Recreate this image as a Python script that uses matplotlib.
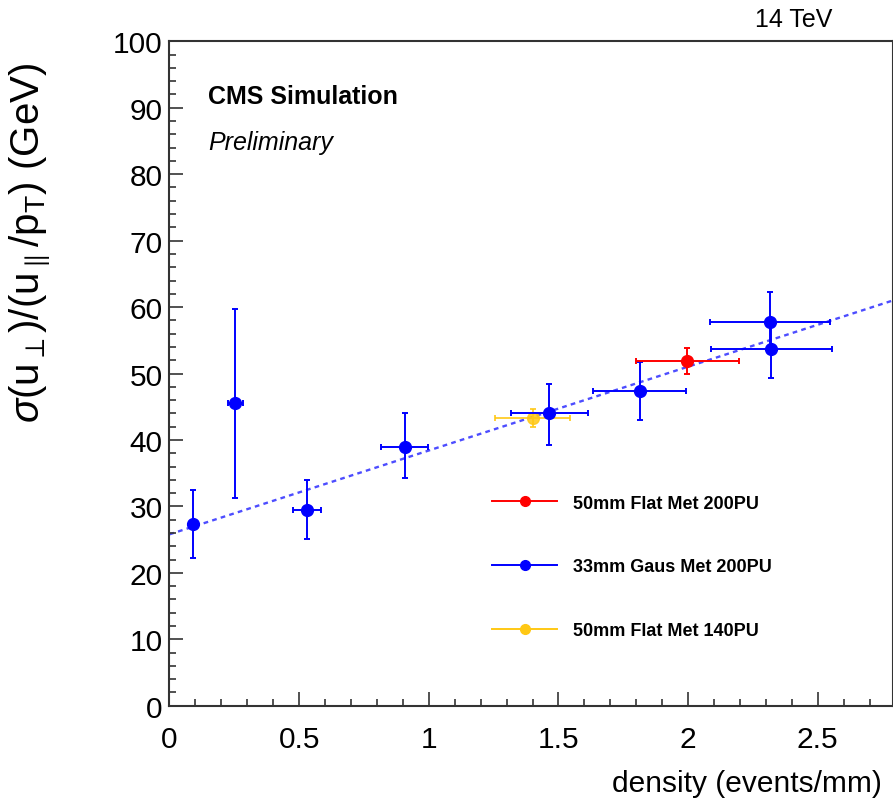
import matplotlib
matplotlib.use("Agg")
import matplotlib.pyplot as plt
from matplotlib.lines import Line2D

plt.rcParams['font.family'] = ['Liberation Sans', 'DejaVu Sans']
plt.rcParams['mathtext.fontset'] = 'custom'
plt.rcParams['mathtext.rm'] = 'Liberation Sans'
plt.rcParams['mathtext.it'] = 'Liberation Sans:italic'

# 33mm Gaus Met 200PU
blue_x = [0.09, 0.254, 0.53, 0.907, 1.465, 1.813, 2.316, 2.321]
blue_y = [27.3, 45.6, 29.5, 39.0, 44.05, 47.4, 57.8, 53.7]
blue_xerr = [0.0, 0.03, 0.055, 0.09, 0.147, 0.18, 0.23, 0.233]
blue_ylo = [5.1, 14.3, 4.4, 4.8, 4.8, 4.4, 4.4, 4.4]
blue_yhi = [5.2, 14.1, 4.5, 5.0, 4.35, 4.3, 4.4, 4.4]

# 50mm Flat Met 200PU
red_x = [1.997]
red_y = [51.9]
red_xerr = [0.198]
red_yerr = [2.0]

# 50mm Flat Met 140PU
yel_x = [1.40]
yel_y = [43.3]
yel_xerr = [0.143]
yel_yerr = [1.4]

# linear fit endpoints
fit_x = [0.0, 2.79]
fit_y = [25.8, 61.0]

labels = ["50mm Flat Met 200PU", "33mm Gaus Met 200PU", "50mm Flat Met 140PU"]
colors = ["#ff0000", "#0000ff", "#ffc814"]

fig = plt.figure(figsize=(8.93, 8.03), dpi=100)
ax = fig.add_axes([0.1898, 0.1199, 0.8102, 0.8274])

ax.plot(fit_x, fit_y, color="#4d4dff", lw=1.7, ls=(0, (2.0, 1.8)), zorder=1)

eb = dict(fmt="o", ms=8.5, elinewidth=1.4, capsize=2.2, capthick=1.4)
ax.errorbar(yel_x, yel_y, xerr=yel_xerr, yerr=yel_yerr, color=colors[2], alpha=0.85, zorder=2, **eb)
ax.errorbar(blue_x, blue_y, xerr=blue_xerr, yerr=[blue_ylo, blue_yhi], color=colors[1], zorder=3, **eb)
ax.errorbar(red_x, red_y, xerr=red_xerr, yerr=red_yerr, color=colors[0], zorder=4, **eb)

ax.set_xlim(0, 2.79)
ax.set_ylim(0, 100)
ax.set_xticks([0, 0.5, 1, 1.5, 2, 2.5])
ax.set_xticklabels(["0", "0.5", "1", "1.5", "2", "2.5"])
ax.set_yticks(range(0, 101, 10))
ax.set_xticks([i * 0.1 for i in range(28)], minor=True)
ax.set_yticks(range(0, 101, 2), minor=True)
ax.tick_params(which="both", direction="in", top=False, right=False, width=1.2, color="#333333")
ax.tick_params(which="major", length=10, labelsize=21.5)
ax.tick_params(which="minor", length=5)
ax.tick_params(axis="x", pad=14)
ax.tick_params(axis="y", pad=5)
for s in ax.spines.values():
    s.set_linewidth(1.5)
    s.set_color("#333333")

ax.set_xlabel("density (events/mm)", fontsize=21.5, ha="right", x=0.985)
ax.xaxis.set_label_coords(0.985, -0.095)
ax.set_ylabel(r"$\sigma(\mathrm{u}_{\perp})/(\mathrm{u}_{\parallel}/\mathrm{p}_{\mathrm{T}})$ (GeV)", fontsize=29,
              va="center")
ax.yaxis.set_label_coords(-0.193, 0.698)

ax.text(0.053, 0.918, "CMS Simulation", transform=ax.transAxes, fontsize=18, fontweight="bold", va="center")
ax.text(0.053, 0.848, "Preliminary", transform=ax.transAxes, fontsize=18, style="italic", va="center")
fig.text(0.932, 0.975, "14 TeV", fontsize=18, ha="right", va="center")

handles = [Line2D([], [], color=c, marker="o", ms=7, lw=1.4) for c in colors]
ax.legend(handles, labels, loc="center left", bbox_to_anchor=(0.541, 0.2927), bbox_transform=fig.transFigure,
          frameon=False, prop={"weight": "bold", "size": 13}, handlelength=3.6, handletextpad=0.9,
          labelspacing=2.6, borderpad=0)

fig.savefig("out.png", dpi=100)
